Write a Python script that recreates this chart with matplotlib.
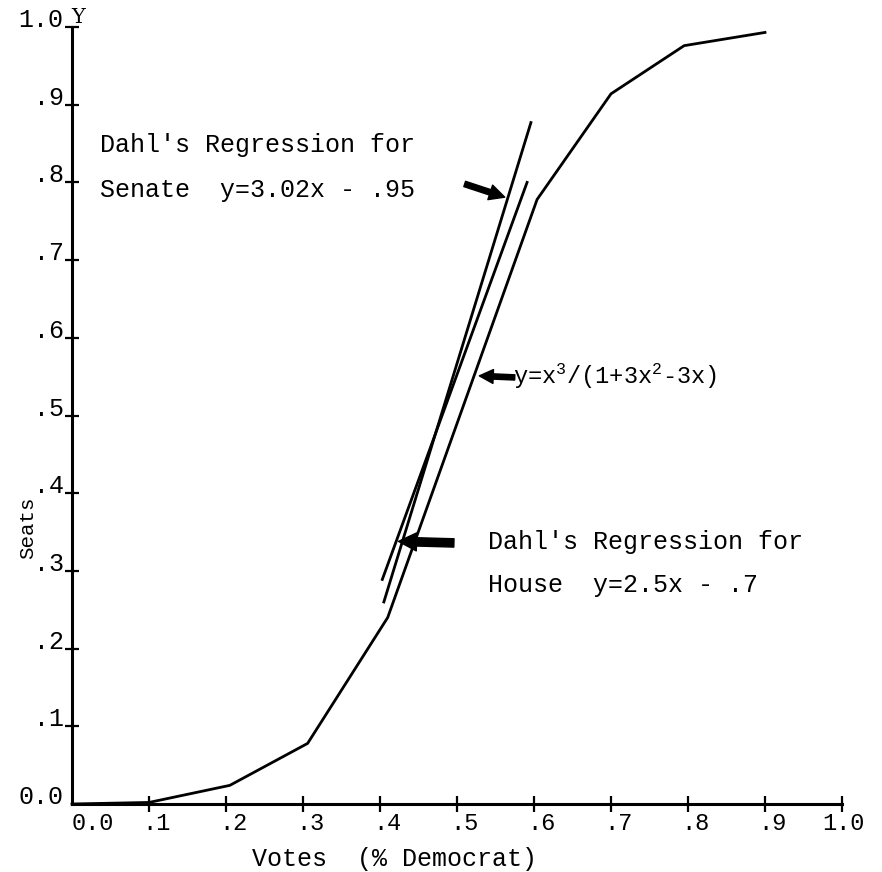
import numpy as np
import matplotlib.pyplot as plt
from matplotlib.transforms import ScaledTranslation

plt.rcParams['font.family'] = ['Liberation Mono', 'DejaVu Sans Mono']
plt.rcParams['mathtext.fontset'] = 'custom'
plt.rcParams['mathtext.rm'] = 'Liberation Mono'
plt.rcParams['mathtext.it'] = 'Liberation Mono'

# values
votes = [0.0, 0.10, 0.205, 0.306, 0.41, 0.604, 0.70, 0.795, 0.90]
seats = [0.0, 0.002, 0.024, 0.078, 0.24, 0.778, 0.914, 0.976, 0.993]

senate_x = [0.405, 0.596]
senate_y = [0.26, 0.877]
house_x = [0.403, 0.591]
house_y = [0.289, 0.80]

x_ticks = [0.0, 0.1, 0.2, 0.3, 0.4, 0.5, 0.6, 0.7, 0.8, 0.9, 1.0]
x_labels = ['0.0', '.1', '.2', '.3', '.4', '.5', '.6', '.7', '.8', '.9', '1.0']
y_ticks = [0.0, 0.1, 0.2, 0.3, 0.4, 0.5, 0.6, 0.7, 0.8, 0.9, 1.0]
y_labels = ['0.0', '.1', '.2', '.3', '.4', '.5', '.6', '.7', '.8', '.9', '1.0']

fig = plt.figure(figsize=(8.82, 8.72), dpi=100)
ax = fig.add_axes([72 / 882, 68 / 872, 770 / 882, 777 / 872])
ax.set_xlim(0, 1)
ax.set_ylim(0, 1)

for side in ['top', 'right']:
    ax.spines[side].set_visible(False)
for side in ['left', 'bottom']:
    ax.spines[side].set_linewidth(2.2)

ax.plot(votes, seats, color='black', lw=2, clip_on=False)
ax.plot(senate_x, senate_y, color='black', lw=2)
ax.plot(house_x, house_y, color='black', lw=2)

ax.set_xticks(x_ticks, x_labels)
ax.set_yticks(y_ticks, y_labels)
ax.tick_params(axis='x', direction='inout', length=11, width=1.6, labelsize=17, pad=0)
ax.tick_params(axis='y', direction='inout', length=10, width=1.6, labelsize=18, pad=1)
ax.xaxis.get_major_ticks()[0].tick1line.set_visible(False)
ax.yaxis.get_major_ticks()[0].tick1line.set_visible(False)

# dot of each x label sits under its tick
for lbl in ax.get_xticklabels():
    txt = lbl.get_text()
    lbl.set_ha('left')
    if txt == '0.0':
        dx = 0
    elif txt == '1.0':
        dx = -20
    else:
        dx = -7
    lbl.set_transform(lbl.get_transform() + ScaledTranslation(dx / 100, 0, fig.dpi_scale_trans))
for lbl in ax.get_yticklabels():
    lbl.set_va('baseline')

ax.set_xlabel('Votes  (% Democrat)', fontsize=18, va='center')
ax.xaxis.set_label_coords(0.419, -0.071)
ax.set_ylabel('Seats', fontsize=15, va='center', ha='center')
ax.yaxis.set_label_coords(-0.057, 0.355)
ax.text(0.008, 1.012, 'Y', fontsize=15, ha='center', va='center',
        family=['DejaVu Serif'], transform=ax.transAxes)

ax.text(0.036, 0.848, "Dahl's Regression for", fontsize=18, va='center')
ax.text(0.036, 0.790, "Senate  y=3.02x - .95", fontsize=18, va='center')
ax.text(0.573, 0.550, r'y=x$^3$/(1+3x$^2$-3x)', fontsize=17, va='center')
ax.text(0.540, 0.337, "Dahl's Regression for", fontsize=18, va='center')
ax.text(0.540, 0.282, "House  y=2.5x - .7", fontsize=18, va='center')

ax.annotate('', xy=(0.562, 0.781), xytext=(0.51, 0.798),
            arrowprops=dict(arrowstyle='simple,head_length=1.1,head_width=1.1,tail_width=0.4',
                            mutation_scale=10, fc='black', ec='black', shrinkA=0, shrinkB=0))
ax.annotate('', xy=(0.529, 0.551), xytext=(0.575, 0.549),
            arrowprops=dict(arrowstyle='simple,head_length=1.0,head_width=1.0,tail_width=0.38',
                            mutation_scale=10, fc='black', ec='black', shrinkA=0, shrinkB=0))
ax.annotate('', xy=(0.424, 0.338), xytext=(0.496, 0.336),
            arrowprops=dict(arrowstyle='simple,head_length=1.3,head_width=1.3,tail_width=0.6',
                            mutation_scale=10, fc='black', ec='black', shrinkA=0, shrinkB=0))

fig.savefig('out.png', dpi=100)
